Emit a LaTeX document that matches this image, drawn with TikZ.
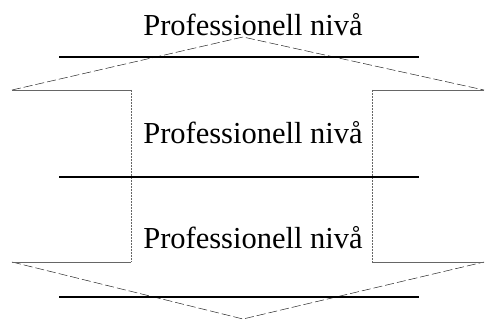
\documentclass[tikz,border=0pt]{standalone}
\usepackage{fontspec}
\setmainfont{Liberation Serif}
\begin{document}
\begin{tikzpicture}[x=1pt,y=-1pt,
  outline/.style={line width=0.5pt, draw=black!85, dash pattern=on 9pt off 3pt},
  shaft/.style={line width=0.5pt, draw=black!60, dash pattern=on 2pt off 1pt},
  level/.style={line width=1.3pt, draw=black},
  lbl/.style={font=\fontsize{30.5}{33}\selectfont, inner sep=0pt, anchor=base}]
\useasboundingbox (0,0) rectangle (485,320);
% arrow outline
\coordinate (tip) at (243,37);
\coordinate (ls) at (12,90);
\coordinate (rs) at (484,90);
\coordinate (lst) at (131,90);
\coordinate (rst) at (372,90);
\coordinate (lsb) at (131,262);
\coordinate (rsb) at (372,262);
\coordinate (lb) at (12,262);
\coordinate (rb) at (484,262);
\coordinate (bot) at (243,319);
\draw[outline] (ls) -- (tip) -- (rs);
\draw[outline] (lb) -- (bot) -- (rb);
\draw[line width=0.5pt, draw=black!60] (ls) -- (lst) (rs) -- (rst) (lb) -- (lsb) (rb) -- (rsb);
\draw[shaft] (lst) -- (lsb) (rst) -- (rsb);
% level lines
\coordinate (a1) at (59,57); \coordinate (b1) at (419,57);
\coordinate (a2) at (59,177); \coordinate (b2) at (419,177);
\coordinate (a3) at (59,297); \coordinate (b3) at (419,297);
\draw[level] (a1) -- (b1);
\draw[level] (a2) -- (b2);
\draw[level] (a3) -- (b3);
% labels
\node[lbl] (t1) at (253,36) {Professionell nivå};
\node[lbl] (t2) at (253,144) {Professionell nivå};
\node[lbl] (t3) at (253,249) {Professionell nivå};
\end{tikzpicture}
\end{document}
